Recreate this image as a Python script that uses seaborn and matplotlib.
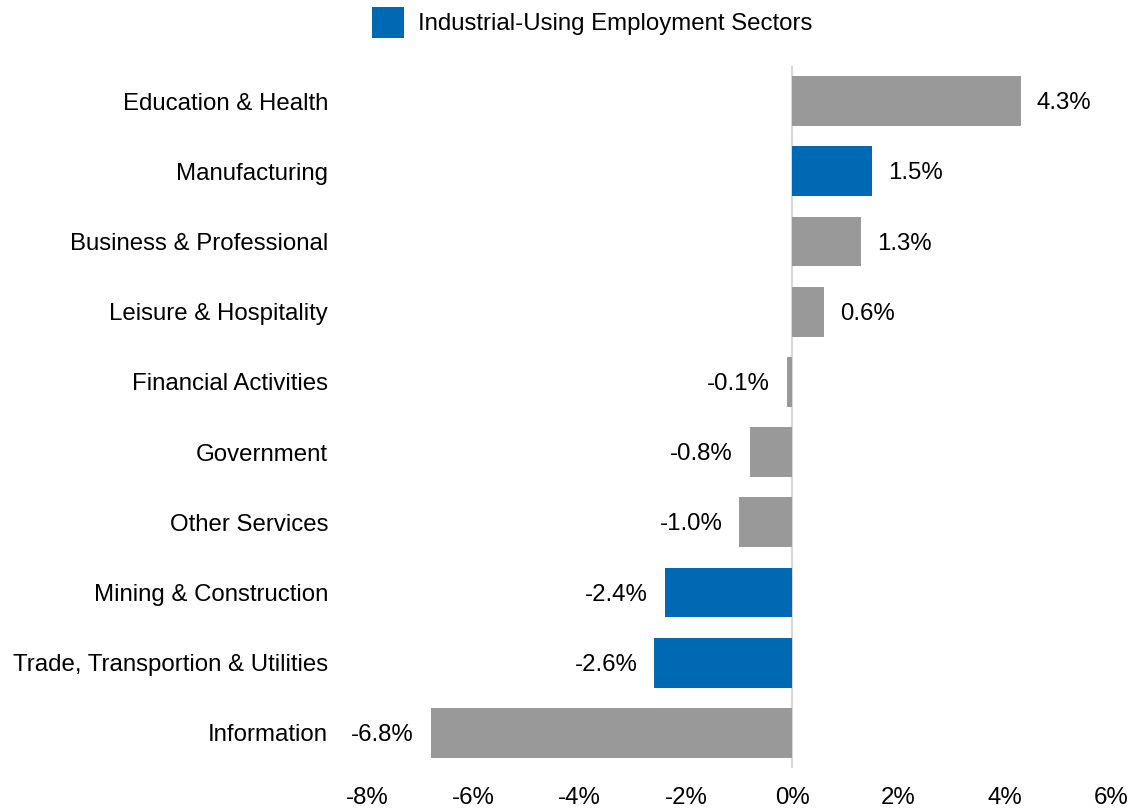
import matplotlib
matplotlib.use("Agg")
import matplotlib.pyplot as plt
from matplotlib.patches import Patch
import seaborn as sns
import pandas as pd

sectors = ["Education & Health", "Manufacturing", "Business & Professional",
           "Leisure & Hospitality", "Financial Activities", "Government",
           "Other Services", "Mining & Construction",
           "Trade, Transportion & Utilities", "Information"]
changes = [4.3, 1.5, 1.3, 0.6, -0.1, -0.8, -1.0, -2.4, -2.6, -6.8]
industrial = [False, True, False, False, False, False, False, True, True, False]
x_ticks = [-8, -6, -4, -2, 0, 2, 4, 6]

BLUE = "#0069B4"
GRAY = "#999999"
FS = 17.3

df = pd.DataFrame({"sector": sectors, "change": changes,
                   "group": ["Industrial" if f else "Other" for f in industrial]})

sns.set_theme(style="white")
plt.rcParams["font.family"] = ["Liberation Sans", "DejaVu Sans"]

fig = plt.figure(figsize=(11.34, 8.1), dpi=100)
ax = fig.add_axes([0.3236, 0.0519, 0.9797 - 0.3236, 0.9185 - 0.0519])

sns.barplot(data=df, x="change", y="sector", hue="group",
            palette={"Industrial": BLUE, "Other": GRAY}, saturation=1,
            dodge=False, width=0.71, legend=False, ax=ax, orient="h",
            linewidth=0)

ax.axvline(0, color="#d9d9d9", lw=1.6, zorder=0.5)

for i, v in enumerate(changes):
    if v >= 0:
        ax.annotate(f"{v:.1f}%", (v, i), xytext=(11.5, -1.5), textcoords="offset points",
                    ha="left", va="center", fontsize=FS, color="#000000")
    else:
        ax.annotate(f"{v:.1f}%", (v, i), xytext=(-12, -1.5), textcoords="offset points",
                    ha="right", va="center", fontsize=FS, color="#000000")

ax.set_xlim(-8, 6)
ax.set_xticks(x_ticks)
ax.set_xticklabels([f"{t}%" for t in x_ticks])
ax.set_xlabel("")
ax.set_ylabel("")
ax.tick_params(axis="x", length=0, pad=14, labelsize=FS, labelcolor="#000000")
ax.tick_params(axis="y", length=0, pad=28, labelsize=FS, labelcolor="#000000")
for s in ax.spines.values():
    s.set_visible(False)

handles = [Patch(facecolor=BLUE, edgecolor="none", label="Industrial-Using Employment Sectors")]
leg = fig.legend(handles=handles, loc="upper center", bbox_to_anchor=(0.522, 1.012),
                 frameon=False, fontsize=FS, handlelength=1.35, handleheight=1.6,
                 handletextpad=0.55, borderaxespad=0.3)
for t in leg.get_texts():
    t.set_color("#000000")

fig.savefig("out.png", dpi=100)
